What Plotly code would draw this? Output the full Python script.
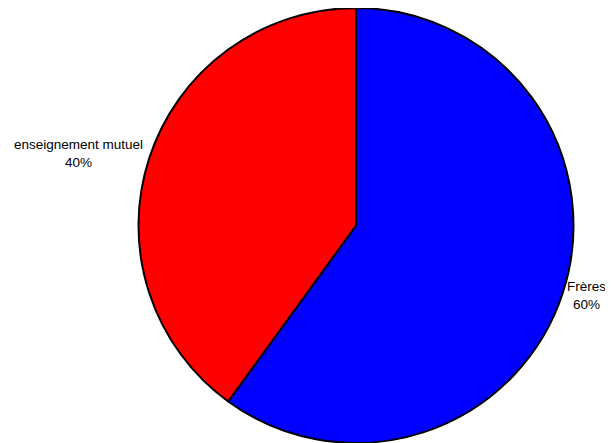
import plotly.graph_objects as go

categories = ["Frères", "enseignement mutuel"]
values = [60, 40]
colors = ["#0000FF", "#FF0000"]

total = sum(values)
pcts = [round(100 * v / total) for v in values]

fig = go.Figure(go.Pie(
    labels=categories,
    values=values,
    sort=False,
    direction="clockwise",
    rotation=0,
    marker=dict(colors=colors, line=dict(color="black", width=2)),
    textinfo="none",
    hoverinfo="label+percent",
    showlegend=False,
    domain=dict(x=[0.2129, 0.9225], y=[0, 1]),
))

# page body adds 8px margin, so positions below are shifted by -8
label_pos = {"Frères": (578, 293), "enseignement mutuel": (70, 148)}
for cat, p in zip(categories, pcts):
    x, y = label_pos[cat]
    fig.add_annotation(
        x=x / 613, y=1 - y / 443, xref="paper", yref="paper",
        text=f"{cat}<br>{p}%", showarrow=False,
        font=dict(family="Liberation Sans, Arial", size=13.5, color="black"),
        xanchor="center", yanchor="middle", align="center",
    )

fig.update_layout(
    width=613, height=443,
    margin=dict(l=0, r=0, t=0, b=8),
    paper_bgcolor="white", plot_bgcolor="white",
)

fig.write_html("out.html")
